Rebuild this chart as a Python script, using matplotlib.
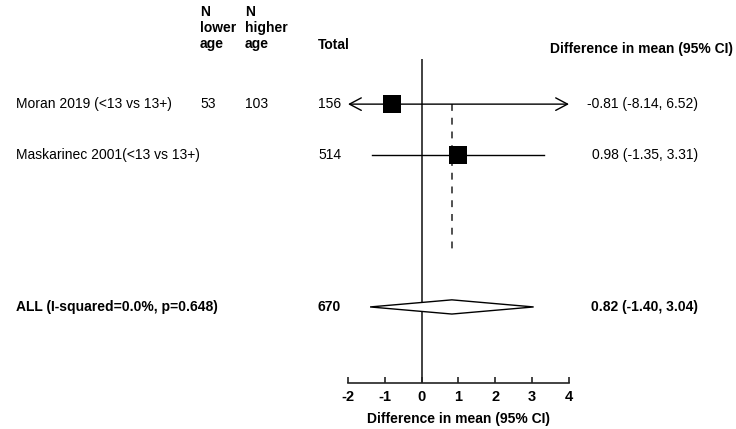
import matplotlib
matplotlib.use("Agg")
import matplotlib.pyplot as plt
from matplotlib.patches import Polygon
from matplotlib.transforms import blended_transform_factory

plt.rcParams['font.family'] = ['Liberation Sans', 'DejaVu Sans']

# ---- data ----
studies = ["Moran 2019 (<13 vs 13+)", "Maskarinec 2001(<13 vs 13+)"]
n_lower = ["53", ""]
n_higher = ["103", ""]
totals = [156, 514]
means = [-0.81, 0.98]
ci_low = [-8.14, -1.35]
ci_high = [6.52, 3.31]

pooled_label = "ALL (I-squared=0.0%, p=0.648)"
pooled_total = 670
pooled_mean = 0.82
pooled_low = -1.40
pooled_high = 3.04

x_ticks = [-2, -1, 0, 1, 2, 3, 4]
x_title = "Difference in mean (95% CI)"

# ---- layout ----
W, H = 736, 429
fig = plt.figure(figsize=(W / 100, H / 100), dpi=100)
fig.patch.set_facecolor("white")

ax_left, ax_right, ax_top, ax_bottom = 348, 569, 59, 383
ax = fig.add_axes([ax_left / W, 1 - ax_bottom / H,
                   (ax_right - ax_left) / W, (ax_bottom - ax_top) / H])
ax.set_xlim(x_ticks[0], x_ticks[-1])
ax.set_ylim(6.5, 0.11)

study_rows = [1, 2]
pooled_row = 5

fs = 10

for sp in ("top", "right", "left"):
    ax.spines[sp].set_visible(False)
ax.spines["bottom"].set_linewidth(1.2)
ax.spines["bottom"].set_color("#222222")
ax.set_yticks([])
ax.set_xticks(x_ticks)
ax.set_xticklabels([str(t) for t in x_ticks], fontsize=10.5, fontweight="bold")
ax.tick_params(axis="x", direction="in", length=4, width=1.2, pad=5, colors="#222222")
for lab in ax.get_xticklabels():
    lab.set_color("black")
ax.set_xlabel(x_title, fontsize=fs, fontweight="bold", labelpad=6)

# null line and pooled-estimate reference line
ax.axvline(0, color="#333333", lw=1.3, zorder=1)
ax.vlines(pooled_mean, study_rows[0], 3.86, colors="#222222", lw=1.1,
          linestyles=(0, (4.5, 4.5)), zorder=1)

xmin, xmax = ax.get_xlim()
for r, m, lo, hi in zip(study_rows, means, ci_low, ci_high):
    lo_c, hi_c = max(lo, xmin), min(hi, xmax)
    if lo < xmin or hi > xmax:
        style = ("<" if lo < xmin else "") + "-" + (">" if hi > xmax else "")
        ax.annotate("", xy=(hi_c, r), xytext=(lo_c, r),
                    arrowprops=dict(arrowstyle=style + ",head_length=0.85,head_width=0.45",
                                    color="black", lw=1.0, shrinkA=0, shrinkB=0),
                    annotation_clip=False, zorder=2)
    else:
        ax.plot([lo_c, hi_c], [r, r], color="black", lw=1.0, zorder=2)
    ax.scatter([m], [r], marker="s", s=175, color="black", zorder=3, linewidths=0)

diamond = Polygon([(pooled_low, pooled_row), (pooled_mean, pooled_row - 0.14),
                   (pooled_high, pooled_row), (pooled_mean, pooled_row + 0.14)],
                  closed=True, facecolor="white", edgecolor="black", lw=1.0, zorder=3)
ax.add_patch(diamond)

# ---- text columns ----
tr = blended_transform_factory(fig.transFigure, ax.transData)
x_study, x_nlow, x_nhigh, x_total, x_est = 16 / W, 200 / W, 245 / W, 318 / W, 698 / W

for r, s, nl, nh, t, m, lo, hi in zip(study_rows, studies, n_lower, n_higher,
                                      totals, means, ci_low, ci_high):
    fig.text(x_study, r, s, transform=tr, fontsize=fs, va="center")
    fig.text(x_nlow, r, nl, transform=tr, fontsize=fs, va="center")
    fig.text(x_nhigh, r, nh, transform=tr, fontsize=fs, va="center")
    fig.text(x_total, r, str(t), transform=tr, fontsize=fs, va="center")
    fig.text(x_est, r, f"{m:.2f} ({lo:.2f}, {hi:.2f})", transform=tr,
             fontsize=fs, va="center", ha="right")

fig.text(x_study, pooled_row, pooled_label, transform=tr, fontsize=fs,
         va="center", fontweight="bold")
fig.text(x_total, pooled_row, str(pooled_total), transform=tr, fontsize=fs,
         va="center", fontweight="bold")
fig.text(x_est, pooled_row, f"{pooled_mean:.2f} ({pooled_low:.2f}, {pooled_high:.2f})",
         transform=tr, fontsize=fs, va="center", ha="right", fontweight="bold")

# headers
fig.text(x_nlow, 1 - 28 / H, "N\nlower\nage", fontsize=fs, fontweight="bold",
         va="center", ha="left", linespacing=1.15)
fig.text(x_nhigh, 1 - 28 / H, "N\nhigher\nage", fontsize=fs, fontweight="bold",
         va="center", ha="left", linespacing=1.15)
fig.text(x_total, 1 - 45 / H, "Total", fontsize=fs, fontweight="bold",
         va="center")
fig.text(733 / W, 1 - 49 / H, x_title, fontsize=fs, fontweight="bold",
         va="center", ha="right")

fig.savefig("out.png", dpi=100, facecolor="white")
